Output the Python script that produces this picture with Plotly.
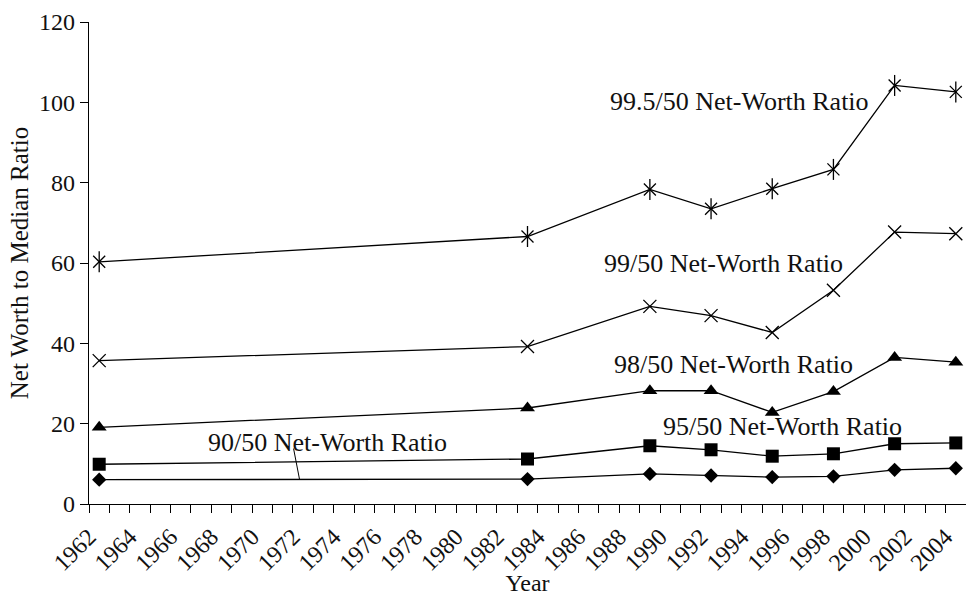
import plotly.graph_objects as go

# Data
years = [1962.5, 1983.5, 1989.5, 1992.5, 1995.5, 1998.5, 2001.5, 2004.5]
r995 = [60.3, 66.6, 78.3, 73.5, 78.5, 83.3, 104.2, 102.6]
r99 = [35.7, 39.2, 49.2, 46.9, 42.7, 53.2, 67.7, 67.3]
r98 = [19.1, 23.9, 28.2, 28.2, 22.8, 28.0, 36.5, 35.3]
r95 = [9.9, 11.2, 14.5, 13.5, 11.9, 12.5, 15.0, 15.2]
r90 = [6.05, 6.2, 7.5, 7.1, 6.7, 6.9, 8.5, 8.9]

tick_years = list(range(1962, 2006))
tick_text = [str(y) if y % 2 == 0 else "" for y in tick_years]

labels = ["99.5/50 Net-Worth Ratio", "99/50 Net-Worth Ratio", "98/50 Net-Worth Ratio",
          "95/50 Net-Worth Ratio", "90/50 Net-Worth Ratio"]
label_x = [1993.9, 1993.1, 1993.6, 1996.0, 1973.7]
label_y = [100.3, 60.0, 34.7, 19.3, 15.2]

FONT = "Liberation Serif"
line = dict(color="black", width=1.3)

fig = go.Figure()
fig.add_trace(go.Scatter(x=years, y=r995, mode="lines+markers", line=line,
                         marker=dict(symbol="x-thin-open", size=12, color="black",
                                     line=dict(width=1.3, color="black"))))
fig.add_trace(go.Scatter(x=years, y=r995, mode="markers",
                         marker=dict(symbol="line-ns-open", size=15, color="black",
                                     line=dict(width=1.3, color="black"))))
fig.add_trace(go.Scatter(x=years, y=r99, mode="lines+markers", line=line,
                         marker=dict(symbol="x-thin-open", size=13, color="black",
                                     line=dict(width=1.3, color="black"))))
fig.add_trace(go.Scatter(x=years, y=r98, mode="lines+markers", line=line,
                         marker=dict(symbol="triangle-up", size=13, color="black")))
fig.add_trace(go.Scatter(x=years, y=r95, mode="lines+markers", line=line,
                         marker=dict(symbol="square", size=13, color="black")))
fig.add_trace(go.Scatter(x=years, y=r90, mode="lines+markers", line=line,
                         marker=dict(symbol="diamond", size=11, color="black")))

for t, x, y in zip(labels, label_x, label_y):
    fig.add_annotation(x=x, y=y, text=t, showarrow=False,
                       font=dict(family=FONT, size=26, color="#111"))

# leader line for the 90/50 label
fig.add_shape(type="line", x0=1972.03, y0=13.8, x1=1972.32, y1=6.2,
              line=dict(color="black", width=1))

fig.update_layout(
    width=966, height=596,
    margin=dict(l=89, r=0, t=22, b=92),
    plot_bgcolor="white", paper_bgcolor="white",
    showlegend=False,
    font=dict(family=FONT, size=24, color="#111"),
)
fig.update_xaxes(range=[1962, 2005], tickvals=tick_years, ticktext=tick_text,
                 tickangle=-45, ticks="outside", ticklen=8, tickcolor="black",
                 showline=True, linecolor="black", linewidth=1.3,
                 showgrid=False, zeroline=False,
                 title=dict(text="Year", font=dict(size=24), standoff=14),
                 automargin=False, tickfont=dict(size=24))
fig.update_yaxes(range=[0, 120], tickvals=[0, 20, 40, 60, 80, 100, 120],
                 ticks="outside", ticklen=8, tickcolor="black",
                 showline=True, linecolor="black", linewidth=1.3,
                 showgrid=False, zeroline=False,
                 title=dict(text="Net Worth to Median Ratio", font=dict(size=25), standoff=3),
                 automargin=False, tickfont=dict(size=24))

fig.write_html("out.html", config={"displayModeBar": False},
               post_script="document.body.style.margin='0';document.body.style.overflow='hidden';")
